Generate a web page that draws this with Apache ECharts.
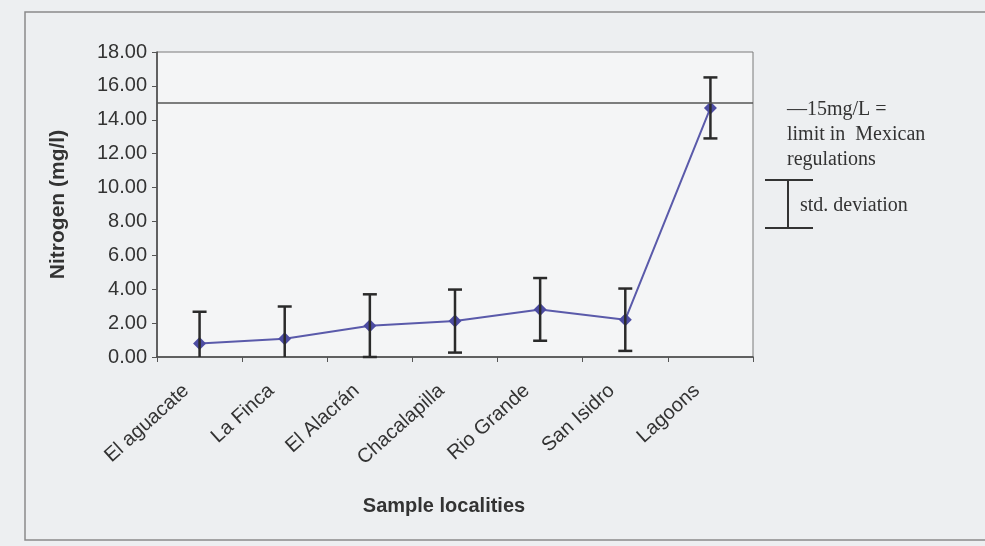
<!DOCTYPE html>
<html>
<head>
<meta charset="utf-8">
<script src="https://cdn.jsdelivr.net/npm/echarts@6/dist/echarts.min.js"></script>
<style>
html,body{margin:0;padding:0;background:#edeff1;}
#chart{width:985px;height:546px;}
</style>
</head>
<body>
<div id="chart"></div>
<script>
var categories = ['El aguacate', 'La Finca', 'El Alacrán', 'Chacalapilla', 'Rio Grande', 'San Isidro', 'Lagoons'];
var nitrogenMean = [0.80, 1.08, 1.85, 2.12, 2.81, 2.20, 14.70];
var nitrogenSD = [1.87, 1.90, 1.85, 1.86, 1.85, 1.84, 1.80];
var limitValue = 15;
var yTicks = {min: 0, max: 18, interval: 2};

var errorData = categories.map(function (c, i) {
  return [i, nitrogenMean[i] - nitrogenSD[i], nitrogenMean[i] + nitrogenSD[i]];
});

var chart = echarts.init(document.getElementById('chart'));
var option = {
  backgroundColor: '#edeff1',
  animation: false,
  grid: {left: 157, right: 232, top: 52, bottom: 189, show: true, backgroundColor: '#f4f5f6', borderColor: '#7a7a7a', borderWidth: 1},
  xAxis: {
    type: 'category',
    data: categories,
    boundaryGap: true,
    name: 'Sample localities',
    nameLocation: 'middle',
    nameGap: 139,
    nameTextStyle: {fontFamily: 'Liberation Sans', fontWeight: 'bold', fontSize: 20, color: '#333', padding: [0, 22, 0, 0]},
    axisLine: {lineStyle: {color: '#444', width: 1.5}},
    axisTick: {show: true, length: 5, lineStyle: {color: '#555'}},
    axisLabel: {rotate: 42, interval: 0, fontFamily: 'Liberation Sans', fontSize: 20, color: '#333', margin: 19, padding: [0, 18, 0, 0]},
    splitLine: {show: false}
  },
  yAxis: {
    type: 'value',
    min: yTicks.min,
    max: yTicks.max,
    interval: yTicks.interval,
    name: 'Nitrogen (mg/l)',
    nameLocation: 'middle',
    nameGap: 88,
    nameTextStyle: {fontFamily: 'Liberation Sans', fontWeight: 'bold', fontSize: 21, color: '#333'},
    axisLine: {show: true, lineStyle: {color: '#444', width: 1.5}},
    axisTick: {show: true, length: 5, lineStyle: {color: '#555'}},
    axisLabel: {formatter: function (v) { return v.toFixed(2); }, fontFamily: 'Liberation Sans', fontSize: 20, color: '#333', margin: 10},
    splitLine: {show: false}
  },
  series: [
    {
      type: 'line',
      data: nitrogenMean,
      symbol: 'diamond',
      symbolSize: 13,
      lineStyle: {color: '#5a5aaa', width: 2},
      itemStyle: {color: '#4c4ca2'},
      z: 3,
      markLine: {
        silent: true,
        symbol: ['none', 'none'],
        label: {show: false},
        lineStyle: {color: '#555', width: 1.5, type: 'solid'},
        data: [{yAxis: limitValue}]
      }
    },
    {
      type: 'custom',
      data: errorData,
      z: 4,
      renderItem: function (params, api) {
        var idx = api.value(0);
        var lo = api.value(1);
        var hi = api.value(2);
        var clampedLo = Math.max(lo, yTicks.min);
        var top = api.coord([idx, hi]);
        var bot = api.coord([idx, clampedLo]);
        var w = 7;
        var style = {stroke: '#2a2a2a', lineWidth: 2.5};
        var children = [
          {type: 'line', shape: {x1: top[0], y1: top[1], x2: bot[0], y2: bot[1]}, style: style},
          {type: 'line', shape: {x1: top[0] - w, y1: top[1], x2: top[0] + w, y2: top[1]}, style: style}
        ];
        if (lo >= yTicks.min - 0.1) {
          children.push({type: 'line', shape: {x1: bot[0] - w, y1: bot[1], x2: bot[0] + w, y2: bot[1]}, style: style});
        }
        return {type: 'group', children: children};
      }
    }
  ],
  graphic: [
    {type: 'rect', shape: {x: 25, y: 12, width: 980, height: 528}, style: {fill: 'none', stroke: '#8a8a8a', lineWidth: 1.5}, z: -1},
    {type: 'text', left: 787, top: 97, style: {text: '—15mg/L =\nlimit in  Mexican\nregulations', font: '20px "Liberation Serif"', fill: '#333', lineHeight: 25}},
    {type: 'line', shape: {x1: 765, y1: 180, x2: 813, y2: 180}, style: {stroke: '#333', lineWidth: 2}},
    {type: 'line', shape: {x1: 788, y1: 180, x2: 788, y2: 228}, style: {stroke: '#333', lineWidth: 2}},
    {type: 'line', shape: {x1: 765, y1: 228, x2: 813, y2: 228}, style: {stroke: '#333', lineWidth: 2}},
    {type: 'text', left: 800, top: 196, style: {text: 'std. deviation', font: '20px "Liberation Serif"', fill: '#333'}}
  ]
};
chart.setOption(option);
</script>
</body>
</html>
